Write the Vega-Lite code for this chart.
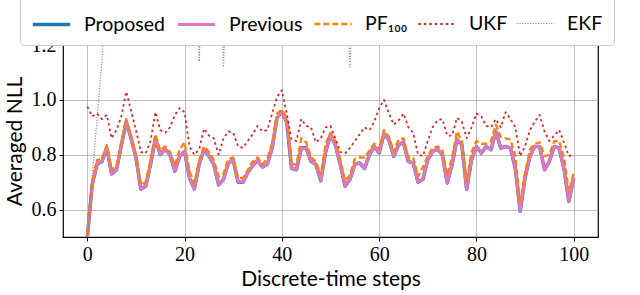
{
"$schema": "https://vega.github.io/schema/vega-lite/v6.json",
"width": 535, "height": 192,
"autosize": "none",
"padding": {"left": 63, "top": 45, "right": 42, "bottom": 58},
"background": "white",
"config": {
  "view": {"stroke": "black", "strokeWidth": 1.2},
  "axis": {"grid": true, "gridColor": "#b0b0b0", "gridWidth": 0.8, "domain": false, "tickColor": "black", "tickSize": 4, "labelFont": "Liberation Serif", "labelFontSize": 20, "labelColor": "black", "titleFont": "Lato", "titleFontSize": 21, "titleFontWeight": "normal", "titleColor": "black"},
  "legend": {"title": null, "orient": "none", "legendX": -43, "legendY": -52, "direction": "horizontal", "symbolType": "stroke", "symbolSize": 1400, "labelFont": "Lato", "labelFontSize": 19.5, "labelColor": "black", "labelOffset": 12, "columnPadding": 6, "padding": 11, "fillColor": "white", "strokeColor": "#cccccc", "cornerRadius": 4, "gridAlign": "none"}
},
"data": {"values": [
{"t":0,"Proposed":0.50,"Previous":0.50,"PF":0.51,"UKF":0.975,"EKF":0.50},
{"t":1,"Proposed":0.69,"Previous":0.69,"PF":0.70,"UKF":0.94,"EKF":0.72},
{"t":2,"Proposed":0.765,"Previous":0.765,"PF":0.78,"UKF":0.95,"EKF":0.93},
{"t":3,"Proposed":0.775,"Previous":0.775,"PF":0.785,"UKF":0.93,"EKF":1.14},
{"t":4,"Proposed":0.825,"Previous":0.825,"PF":0.835,"UKF":0.945,"EKF":1.6},
{"t":5,"Proposed":0.73,"Previous":0.73,"PF":0.745,"UKF":0.86,"EKF":1.6},
{"t":6,"Proposed":0.745,"Previous":0.745,"PF":0.76,"UKF":0.89,"EKF":1.6},
{"t":7,"Proposed":0.835,"Previous":0.835,"PF":0.845,"UKF":0.94,"EKF":1.6},
{"t":8,"Proposed":0.92,"Previous":0.92,"PF":0.93,"UKF":1.03,"EKF":1.6},
{"t":9,"Proposed":0.86,"Previous":0.86,"PF":0.87,"UKF":0.96,"EKF":1.6},
{"t":10,"Proposed":0.79,"Previous":0.79,"PF":0.80,"UKF":0.89,"EKF":1.6},
{"t":11,"Proposed":0.675,"Previous":0.675,"PF":0.69,"UKF":0.81,"EKF":1.6},
{"t":12,"Proposed":0.685,"Previous":0.685,"PF":0.70,"UKF":0.805,"EKF":1.6},
{"t":13,"Proposed":0.765,"Previous":0.765,"PF":0.78,"UKF":0.85,"EKF":1.6},
{"t":14,"Proposed":0.86,"Previous":0.86,"PF":0.875,"UKF":0.955,"EKF":1.6},
{"t":15,"Proposed":0.80,"Previous":0.80,"PF":0.815,"UKF":0.89,"EKF":1.6},
{"t":16,"Proposed":0.82,"Previous":0.82,"PF":0.83,"UKF":0.88,"EKF":1.6},
{"t":17,"Proposed":0.80,"Previous":0.80,"PF":0.81,"UKF":0.90,"EKF":1.6},
{"t":18,"Proposed":0.74,"Previous":0.74,"PF":0.76,"UKF":0.945,"EKF":1.6},
{"t":19,"Proposed":0.795,"Previous":0.795,"PF":0.82,"UKF":0.97,"EKF":1.6},
{"t":20,"Proposed":0.812,"Previous":0.812,"PF":0.845,"UKF":0.955,"EKF":1.6},
{"t":21,"Proposed":0.715,"Previous":0.715,"PF":0.74,"UKF":0.83,"EKF":1.6},
{"t":22,"Proposed":0.675,"Previous":0.675,"PF":0.695,"UKF":0.80,"EKF":1.6},
{"t":23,"Proposed":0.765,"Previous":0.765,"PF":0.78,"UKF":0.82,"EKF":1.14},
{"t":24,"Proposed":0.82,"Previous":0.82,"PF":0.83,"UKF":0.895,"EKF":1.6},
{"t":25,"Proposed":0.795,"Previous":0.795,"PF":0.81,"UKF":0.87,"EKF":1.6},
{"t":26,"Proposed":0.765,"Previous":0.765,"PF":0.78,"UKF":0.86,"EKF":1.6},
{"t":27,"Proposed":0.69,"Previous":0.69,"PF":0.72,"UKF":0.80,"EKF":1.6},
{"t":28,"Proposed":0.71,"Previous":0.71,"PF":0.73,"UKF":0.86,"EKF":1.12},
{"t":29,"Proposed":0.77,"Previous":0.77,"PF":0.785,"UKF":0.885,"EKF":1.6},
{"t":30,"Proposed":0.78,"Previous":0.78,"PF":0.79,"UKF":0.88,"EKF":1.6},
{"t":31,"Proposed":0.70,"Previous":0.70,"PF":0.715,"UKF":0.83,"EKF":1.6},
{"t":32,"Proposed":0.70,"Previous":0.70,"PF":0.715,"UKF":0.825,"EKF":1.6},
{"t":33,"Proposed":0.735,"Previous":0.735,"PF":0.745,"UKF":0.85,"EKF":1.6},
{"t":34,"Proposed":0.76,"Previous":0.76,"PF":0.775,"UKF":0.875,"EKF":1.6},
{"t":35,"Proposed":0.78,"Previous":0.78,"PF":0.79,"UKF":0.905,"EKF":1.6},
{"t":36,"Proposed":0.755,"Previous":0.755,"PF":0.765,"UKF":0.885,"EKF":1.6},
{"t":37,"Proposed":0.765,"Previous":0.765,"PF":0.785,"UKF":0.89,"EKF":1.6},
{"t":38,"Proposed":0.825,"Previous":0.825,"PF":0.84,"UKF":0.95,"EKF":1.6},
{"t":39,"Proposed":0.935,"Previous":0.935,"PF":0.95,"UKF":1.01,"EKF":1.6},
{"t":40,"Proposed":0.955,"Previous":0.955,"PF":0.965,"UKF":1.035,"EKF":1.6},
{"t":41,"Proposed":0.92,"Previous":0.92,"PF":0.935,"UKF":0.95,"EKF":1.6},
{"t":42,"Proposed":0.75,"Previous":0.75,"PF":0.765,"UKF":0.855,"EKF":1.6},
{"t":43,"Proposed":0.745,"Previous":0.745,"PF":0.765,"UKF":0.85,"EKF":1.6},
{"t":44,"Proposed":0.825,"Previous":0.825,"PF":0.86,"UKF":0.93,"EKF":1.6},
{"t":45,"Proposed":0.825,"Previous":0.825,"PF":0.845,"UKF":0.905,"EKF":1.6},
{"t":46,"Proposed":0.775,"Previous":0.775,"PF":0.79,"UKF":0.90,"EKF":1.6},
{"t":47,"Proposed":0.765,"Previous":0.765,"PF":0.775,"UKF":0.845,"EKF":1.6},
{"t":48,"Proposed":0.705,"Previous":0.705,"PF":0.725,"UKF":0.86,"EKF":1.6},
{"t":49,"Proposed":0.81,"Previous":0.81,"PF":0.84,"UKF":0.90,"EKF":1.6},
{"t":50,"Proposed":0.873,"Previous":0.873,"PF":0.88,"UKF":0.905,"EKF":1.6},
{"t":51,"Proposed":0.836,"Previous":0.836,"PF":0.85,"UKF":0.86,"EKF":1.6},
{"t":52,"Proposed":0.765,"Previous":0.765,"PF":0.78,"UKF":0.81,"EKF":1.6},
{"t":53,"Proposed":0.685,"Previous":0.685,"PF":0.705,"UKF":0.805,"EKF":1.6},
{"t":54,"Proposed":0.71,"Previous":0.71,"PF":0.725,"UKF":0.825,"EKF":1.12},
{"t":55,"Proposed":0.765,"Previous":0.765,"PF":0.785,"UKF":0.85,"EKF":1.6},
{"t":56,"Proposed":0.77,"Previous":0.77,"PF":0.79,"UKF":0.875,"EKF":1.6},
{"t":57,"Proposed":0.75,"Previous":0.75,"PF":0.79,"UKF":0.90,"EKF":1.6},
{"t":58,"Proposed":0.80,"Previous":0.80,"PF":0.815,"UKF":0.89,"EKF":1.6},
{"t":59,"Proposed":0.83,"Previous":0.83,"PF":0.84,"UKF":0.92,"EKF":1.6},
{"t":60,"Proposed":0.806,"Previous":0.806,"PF":0.82,"UKF":0.97,"EKF":1.6},
{"t":61,"Proposed":0.877,"Previous":0.877,"PF":0.89,"UKF":1.0,"EKF":1.6},
{"t":62,"Proposed":0.855,"Previous":0.855,"PF":0.865,"UKF":0.95,"EKF":1.6},
{"t":63,"Proposed":0.794,"Previous":0.794,"PF":0.81,"UKF":0.91,"EKF":1.6},
{"t":64,"Proposed":0.836,"Previous":0.836,"PF":0.855,"UKF":0.925,"EKF":1.6},
{"t":65,"Proposed":0.845,"Previous":0.845,"PF":0.86,"UKF":0.95,"EKF":1.6},
{"t":66,"Proposed":0.775,"Previous":0.775,"PF":0.79,"UKF":0.90,"EKF":1.6},
{"t":67,"Proposed":0.77,"Previous":0.77,"PF":0.79,"UKF":0.88,"EKF":1.6},
{"t":68,"Proposed":0.70,"Previous":0.70,"PF":0.72,"UKF":0.80,"EKF":1.6},
{"t":69,"Proposed":0.71,"Previous":0.71,"PF":0.755,"UKF":0.795,"EKF":1.6},
{"t":70,"Proposed":0.782,"Previous":0.782,"PF":0.795,"UKF":0.85,"EKF":1.6},
{"t":71,"Proposed":0.812,"Previous":0.812,"PF":0.825,"UKF":0.90,"EKF":1.6},
{"t":72,"Proposed":0.82,"Previous":0.82,"PF":0.83,"UKF":0.925,"EKF":1.6},
{"t":73,"Proposed":0.80,"Previous":0.80,"PF":0.815,"UKF":0.93,"EKF":1.6},
{"t":74,"Proposed":0.697,"Previous":0.697,"PF":0.725,"UKF":0.87,"EKF":1.6},
{"t":75,"Proposed":0.764,"Previous":0.764,"PF":0.79,"UKF":0.87,"EKF":1.6},
{"t":76,"Proposed":0.855,"Previous":0.855,"PF":0.885,"UKF":0.935,"EKF":1.6},
{"t":77,"Proposed":0.836,"Previous":0.836,"PF":0.85,"UKF":0.92,"EKF":1.6},
{"t":78,"Proposed":0.673,"Previous":0.673,"PF":0.70,"UKF":0.86,"EKF":1.6},
{"t":79,"Proposed":0.782,"Previous":0.782,"PF":0.81,"UKF":0.90,"EKF":1.6},
{"t":80,"Proposed":0.83,"Previous":0.83,"PF":0.85,"UKF":0.95,"EKF":1.6},
{"t":81,"Proposed":0.806,"Previous":0.806,"PF":0.84,"UKF":0.94,"EKF":1.6},
{"t":82,"Proposed":0.83,"Previous":0.83,"PF":0.84,"UKF":0.905,"EKF":1.6},
{"t":83,"Proposed":0.818,"Previous":0.818,"PF":0.85,"UKF":0.90,"EKF":1.6},
{"t":84,"Proposed":0.885,"Previous":0.885,"PF":0.91,"UKF":0.93,"EKF":1.6},
{"t":85,"Proposed":0.824,"Previous":0.824,"PF":0.865,"UKF":0.90,"EKF":1.6},
{"t":86,"Proposed":0.83,"Previous":0.83,"PF":0.86,"UKF":0.955,"EKF":1.6},
{"t":87,"Proposed":0.824,"Previous":0.824,"PF":0.855,"UKF":0.93,"EKF":1.6},
{"t":88,"Proposed":0.75,"Previous":0.75,"PF":0.795,"UKF":0.90,"EKF":1.6},
{"t":89,"Proposed":0.594,"Previous":0.594,"PF":0.62,"UKF":0.795,"EKF":1.6},
{"t":90,"Proposed":0.715,"Previous":0.715,"PF":0.735,"UKF":0.83,"EKF":1.6},
{"t":91,"Proposed":0.794,"Previous":0.794,"PF":0.82,"UKF":0.89,"EKF":1.6},
{"t":92,"Proposed":0.83,"Previous":0.83,"PF":0.84,"UKF":0.92,"EKF":1.6},
{"t":93,"Proposed":0.83,"Previous":0.83,"PF":0.845,"UKF":0.945,"EKF":1.6},
{"t":94,"Proposed":0.745,"Previous":0.745,"PF":0.795,"UKF":0.885,"EKF":1.6},
{"t":95,"Proposed":0.776,"Previous":0.776,"PF":0.80,"UKF":0.85,"EKF":1.6},
{"t":96,"Proposed":0.83,"Previous":0.83,"PF":0.85,"UKF":0.87,"EKF":1.6},
{"t":97,"Proposed":0.824,"Previous":0.824,"PF":0.85,"UKF":0.89,"EKF":1.6},
{"t":98,"Proposed":0.75,"Previous":0.75,"PF":0.79,"UKF":0.845,"EKF":1.6},
{"t":99,"Proposed":0.63,"Previous":0.63,"PF":0.665,"UKF":0.795,"EKF":1.6},
{"t":100,"Proposed":0.715,"Previous":0.715,"PF":0.735,"UKF":0.80,"EKF":1.6}
]},
"transform": [{"fold": ["Proposed", "Previous", "PF", "UKF", "EKF"], "as": ["method", "v"]}],
"mark": {"type": "line", "clip": true, "strokeCap": "butt", "strokeJoin": "round"},
"encoding": {
  "x": {"field": "t", "type": "quantitative", "scale": {"domain": [-5, 105], "nice": false, "zero": false},
        "axis": {"values": [0, 20, 40, 60, 80, 100], "title": "Discrete-time steps", "labelPadding": 3, "titlePadding": 4}},
  "y": {"field": "v", "type": "quantitative", "scale": {"domain": [0.5, 1.2], "nice": false, "zero": false},
        "axis": {"values": [0.6, 0.8, 1.0, 1.2], "format": ".1f", "title": "Averaged NLL", "labelPadding": 3, "titlePadding": 6}},
  "color": {"field": "method", "type": "nominal",
    "scale": {"domain": ["Proposed", "Previous", "PF", "UKF", "EKF"], "range": ["#1f77b4", "#e377c2", "#ff7f0e", "#d62728", "#9467bd"]},
    "legend": {"labelExpr": "datum.label == 'PF' ? 'PF₁₀₀' : datum.label"}},
  "strokeDash": {"field": "method", "type": "nominal",
    "scale": {"domain": ["Proposed", "Previous", "PF", "UKF", "EKF"], "range": [[1, 0], [1, 0], [6, 3], [2.5, 3], [1, 1.65]]},
    "legend": {"labelExpr": "datum.label == 'PF' ? 'PF₁₀₀' : datum.label"}},
  "strokeWidth": {"field": "method", "type": "nominal",
    "scale": {"domain": ["Proposed", "Previous", "PF", "UKF", "EKF"], "range": [3.5, 1.2, 2, 2.5, 1]},
    "legend": {"labelExpr": "datum.label == 'PF' ? 'PF₁₀₀' : datum.label"}}
}
}
